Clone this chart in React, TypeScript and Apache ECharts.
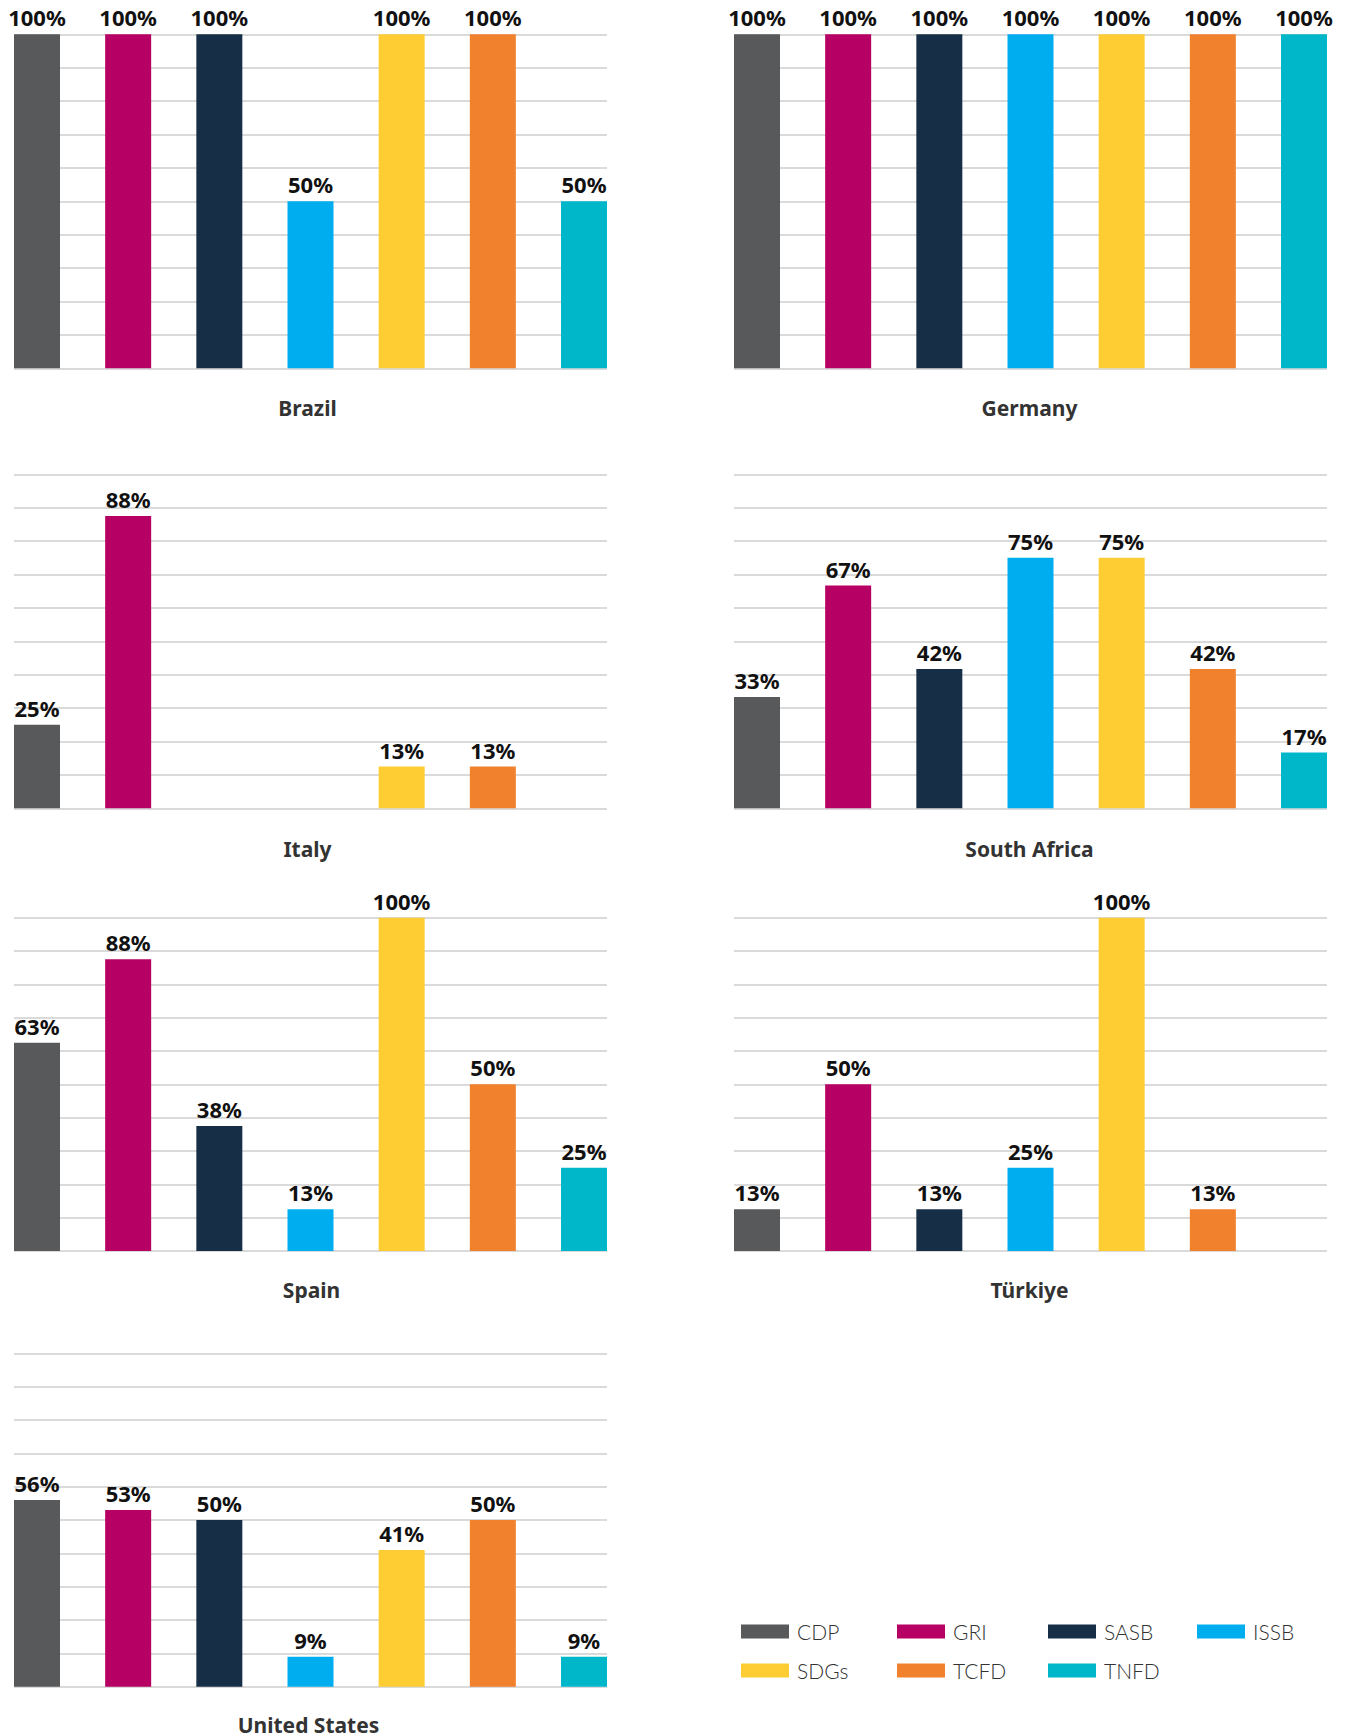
import React, { useEffect, useRef } from "react";
import * as echarts from "echarts";

// ---------- data ----------
const frameworks = ["CDP", "GRI", "SASB", "ISSB", "SDGs", "TCFD", "TNFD"];
const frameworkColors = ["#58595b", "#b60063", "#172f46", "#00aeef", "#fecd34", "#f2812e", "#00b6c9"];
const countries = ["Brazil", "Germany", "Italy", "South Africa", "Spain", "Türkiye", "United States"];
const brazil = [100, 100, 100, 50, 100, 100, 50];
const germany = [100, 100, 100, 100, 100, 100, 100];
const italy = [25, 87.5, null, null, 12.5, 12.5, null];
const southAfrica = [33.3, 66.7, 41.7, 75, 75, 41.7, 16.7];
const spain = [62.5, 87.5, 37.5, 12.5, 100, 50, 25];
const turkiye = [12.5, 50, 12.5, 25, 100, 12.5, null];
const unitedStates = [56, 53, 50, 9, 41, 50, 9];
const countryValues = [brazil, germany, italy, southAfrica, spain, turkiye, unitedStates];
const yMin = 0;
const yMax = 100;
const yInterval = 10;

// ---------- layout ----------
const W = 1349;
const H = 1736;
const colLeft = [14, 734];
const plotWidth = 593;
const rowTop = [34.3, 474.3, 917.7, 1353.3];
const rowHeight = [334, 334, 333.3, 333.4];
const titleY = [408, 848.5, 1290, 1725];
const titleDx = [-3, -1, -3, -1, 1, -1, -2];
const barWidth = 46;
const legendLeft = [741, 897, 1048, 1197, 741, 897, 1048];
const legendTop = [1621, 1621, 1621, 1621, 1660, 1660, 1660];

const labelFont = '"Noto Sans", "Open Sans", sans-serif';

export default function App() {
  const ref = useRef<HTMLDivElement>(null);

  useEffect(() => {
    if (!ref.current) return;
    const chart = echarts.init(ref.current, null, { renderer: "svg", width: W, height: H });

    const grids: any[] = [];
    const xAxes: any[] = [];
    const yAxes: any[] = [];
    const series: any[] = [];
    const graphics: any[] = [];

    countries.forEach((name, k) => {
      const col = k % 2;
      const row = Math.floor(k / 2);
      const n = frameworks.length;
      const pitch = (plotWidth - barWidth) / (n - 1);
      const pad = barWidth / 2 / pitch;
      grids.push({
        left: colLeft[col],
        top: rowTop[row],
        width: plotWidth,
        height: rowHeight[row],
        containLabel: false,
      });
      xAxes.push({
        type: "value",
        gridIndex: k,
        min: -pad,
        max: n - 1 + pad,
        show: false,
        splitLine: { show: false },
      });
      yAxes.push({
        type: "value",
        gridIndex: k,
        min: yMin,
        max: yMax,
        interval: yInterval,
        axisLine: { show: false },
        axisTick: { show: false },
        axisLabel: { show: false },
        splitLine: { show: true, lineStyle: { color: "#dadada", width: 2 } },
      });
      const vals = countryValues[k];
      const items = frameworks
        .map((f, i) => ({ f, i, v: vals[i] }))
        .filter((d) => d.v !== null && d.v !== undefined)
        .map((d) => ({
          name: d.f,
          value: [d.i, d.v],
          itemStyle: { color: frameworkColors[d.i] },
        }));
      series.push({
        type: "bar",
        name: name,
        xAxisIndex: k,
        yAxisIndex: k,
        barWidth: barWidth,
        silent: true,
        data: items,
        label: {
          show: true,
          position: "top",
          distance: 6,
          formatter: (p: any) => `${Math.round(p.value[1])}%`,
          fontFamily: labelFont,
          fontWeight: "bold",
          fontSize: 22,
          color: "#111111",
        },
      });
      graphics.push({
        type: "text",
        x: colLeft[col] + plotWidth / 2 + titleDx[k],
        y: titleY[row],
        silent: true,
        style: {
          text: name,
          fill: "#333333",
          font: `bold 21px ${labelFont}`,
          textAlign: "center",
          textVerticalAlign: "middle",
        },
      });
    });

    // hidden grid hosting legend-only series
    const hiddenIdx = countries.length;
    grids.push({ left: 0, top: 0, width: 1, height: 1, show: false });
    xAxes.push({ type: "category", gridIndex: hiddenIdx, show: false, data: frameworks });
    yAxes.push({ type: "value", gridIndex: hiddenIdx, show: false });
    frameworks.forEach((f, i) => {
      series.push({
        type: "bar",
        name: f,
        xAxisIndex: hiddenIdx,
        yAxisIndex: hiddenIdx,
        data: [],
        itemStyle: { color: frameworkColors[i] },
      });
    });

    const legends = frameworks.map((f, i) => ({
      data: [f],
      left: legendLeft[i],
      top: legendTop[i],
      orient: "horizontal",
      padding: 0,
      itemWidth: 48,
      itemHeight: 14,
      icon: "rect",
      selectedMode: false,
      textStyle: {
        fontFamily: 'Lato, "Open Sans", sans-serif',
        fontWeight: 300,
        fontSize: 21,
        lineHeight: 14,
        color: "#333333",
        padding: [0, 0, 0, 3],
      },
    }));

    chart.setOption({
      animation: false,
      backgroundColor: "#ffffff",
      grid: grids,
      xAxis: xAxes,
      yAxis: yAxes,
      series: series,
      legend: legends,
      graphic: graphics,
    });

    return () => {
      chart.dispose();
    };
  }, []);

  return (
    <div
      ref={ref}
      style={{ position: "absolute", left: 0, top: 0, width: W, height: H, background: "#fff" }}
    />
  );
}
